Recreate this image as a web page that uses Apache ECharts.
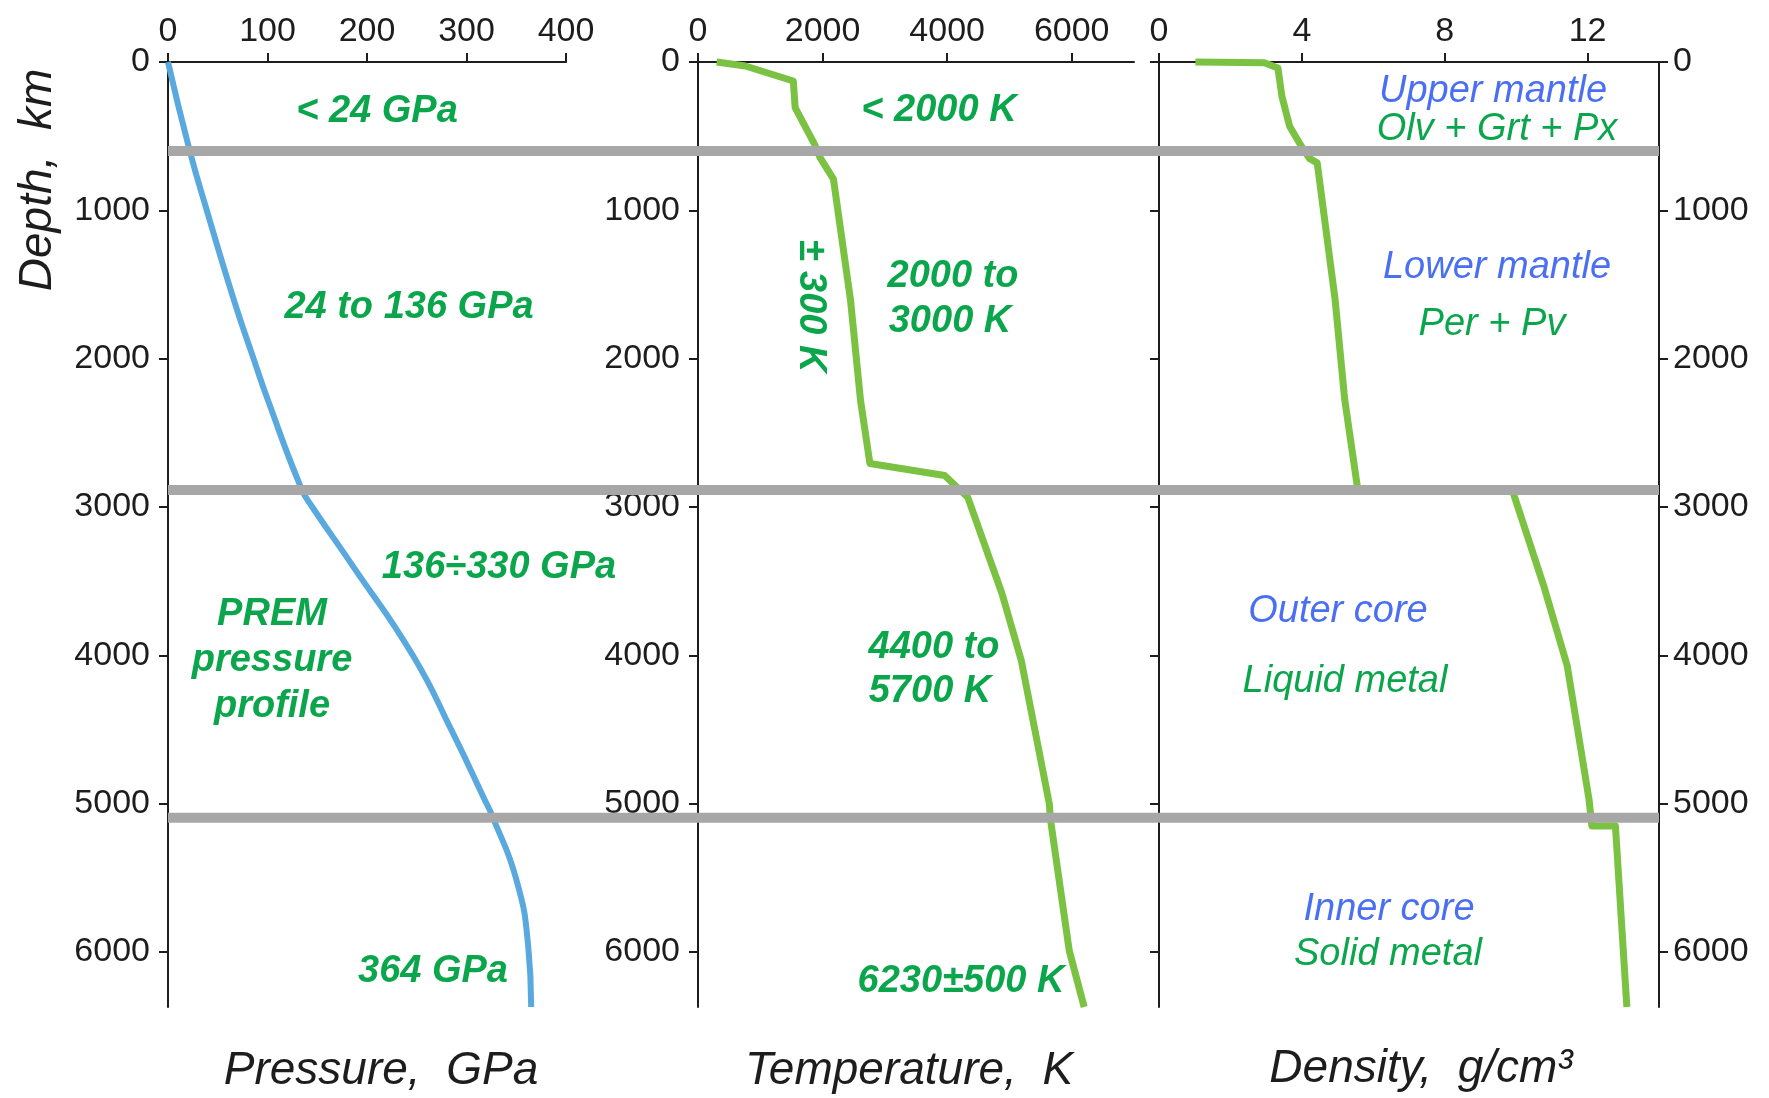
<!DOCTYPE html>
<html>
<head>
<meta charset="utf-8">
<title>Earth interior: pressure, temperature, density</title>
<script src="https://cdn.jsdelivr.net/npm/echarts@6.0.0/dist/echarts.min.js"></script>
<style>
  html, body { margin: 0; padding: 0; background: #fff; }
  #chart { width: 1769px; height: 1098px; }
</style>
</head>
<body>
<div id="chart"></div>
<script>
// profiles: [value, depth km]
const pressureProfile = [
  [0, 0], [21.5, 590], [39, 1000], [66, 1600], [86, 2000], [100, 2272],
  [134, 2875], [145, 3000], [186, 3400], [246, 4000], [286, 4520],
  [318, 4970], [326, 5085], [350, 5510], [362, 5960], [365, 6371]
];
const temperatureProfile = [
  [300, 0], [760, 27], [1530, 128], [1560, 308], [1870, 553], [1960, 645],
  [2175, 790], [2450, 1610], [2610, 2283], [2760, 2707], [3960, 2788],
  [4330, 2934], [4880, 3583], [5190, 4034], [5640, 5000], [5660, 5111],
  [5960, 5990], [6200, 6371]
];
const densityProfile = [
  [1.02, 0], [2.95, 5], [3.33, 40], [3.44, 230], [3.66, 435], [3.99, 570],
  [4.21, 650], [4.43, 680], [4.93, 1600], [5.2, 2276], [5.57, 2891],
  [9.9, 2891], [10.77, 3530], [11.43, 4070], [12.04, 4970], [12.12, 5150],
  [12.78, 5150], [13.1, 6371]
];
const boundaryDepths = [600, 2885, 5095];

const depthTicks = [0, 1000, 2000, 3000, 4000, 5000, 6000];
const pressureTicks = [0, 100, 200, 300, 400];
const temperatureTicks = [0, 2000, 4000, 6000];
const densityTicks = [0, 4, 8, 12];
const EARTH_RADIUS = 6371;

const FONT = '"Liberation Sans", Arial, sans-serif';
const INK = '#1d1d1d';
const GREEN_TEXT = '#0ba64c';
const BLUE_TEXT = '#4a6ff2';

const chart = echarts.init(document.getElementById('chart'));

// plain numbers, no thousands separator
const plain = (v) => String(v);

function topAxis(gridIndex, max, ticks) {
  return {
    gridIndex, type: 'value', position: 'top', min: 0, max,
    axisLine: { show: true, onZero: false, lineStyle: { color: INK, width: 2 } },
    axisTick: { show: true, length: 9, customValues: ticks, lineStyle: { color: INK, width: 2 } },
    axisLabel: { customValues: ticks, formatter: plain, color: INK, fontSize: 34, fontFamily: FONT, margin: 13 },
    splitLine: { show: false }
  };
}

function depthAxis(gridIndex, position, showLabels) {
  return {
    gridIndex, type: 'value', inverse: true, min: 0, max: EARTH_RADIUS, position,
    axisLine: { show: true, onZero: false, lineStyle: { color: INK, width: 2 } },
    axisTick: { show: true, length: 9, customValues: depthTicks, lineStyle: { color: INK, width: 2 } },
    axisLabel: {
      show: showLabels, customValues: depthTicks, formatter: plain,
      color: INK, fontSize: 34, fontFamily: FONT, margin: position === 'right' ? 14 : 18
    },
    splitLine: { show: false }
  };
}

function profileLine(name, idx, data, color, width, smooth) {
  return {
    name, type: 'line', xAxisIndex: idx, yAxisIndex: idx, data,
    smooth, showSymbol: false, symbol: 'none', clip: false, z: 2,
    lineStyle: { color, width, join: 'round' }
  };
}

function label(text, x, y, fill, font, rotation) {
  return {
    type: 'text', x, y, rotation: rotation || 0, silent: true,
    style: { text, fill, font, align: 'center', verticalAlign: 'middle' }
  };
}

const boldGreen = 'italic bold 38px ' + FONT;
const plainItalic = 'italic 38px ' + FONT;
const titleFont = 'italic 46px ' + FONT;

const option = {
  backgroundColor: '#fff',
  animation: false,
  grid: [
    { left: 168, top: 62, width: 398, height: 945 },
    { left: 698, top: 62, width: 436, height: 945 },
    { left: 1159, top: 62, width: 500, height: 945 },
    { left: 168, top: 62, width: 1491, height: 945 }
  ],
  xAxis: [
    topAxis(0, 400, pressureTicks),
    topAxis(1, 7000, temperatureTicks),
    topAxis(2, 14, densityTicks),
    { gridIndex: 3, type: 'value', min: 0, max: 1, show: false }
  ],
  yAxis: [
    depthAxis(0, 'left', true),
    depthAxis(1, 'left', true),
    depthAxis(2, 'left', false),
    { gridIndex: 3, type: 'value', inverse: true, min: 0, max: EARTH_RADIUS, show: false },
    depthAxis(2, 'right', true)
  ],
  series: [
    profileLine('Pressure', 0, pressureProfile, '#59a9de', 6, true),
    profileLine('Temperature', 1, temperatureProfile, '#7cc242', 7, false),
    profileLine('Density', 2, densityProfile, '#7cc242', 7, false),
    ...boundaryDepths.map((d) => ({
      type: 'line', xAxisIndex: 3, yAxisIndex: 3, silent: true,
      data: [[0, d], [1, d]], showSymbol: false, symbol: 'none', clip: false, z: 3,
      lineStyle: { color: '#a7a7a7', width: 10 }
    }))
  ],
  graphic: [
    label('Depth,  km', 38, 180, INK, titleFont, Math.PI / 2),
    label('Pressure,  GPa', 381, 1071, INK, titleFont),
    label('Temperature,  K', 909, 1071, INK, titleFont),
    label('Density,  g/cm\u00B3', 1421, 1069, INK, titleFont),

    label('< 24 GPa', 377, 112, GREEN_TEXT, boldGreen),
    label('24 to 136 GPa', 409, 308, GREEN_TEXT, boldGreen),
    label('136\u00F7330 GPa', 499, 568, GREEN_TEXT, boldGreen),
    label('PREM', 272, 615, GREEN_TEXT, boldGreen),
    label('pressure', 272, 661, GREEN_TEXT, boldGreen),
    label('profile', 272, 707, GREEN_TEXT, boldGreen),
    label('364 GPa', 433, 972, GREEN_TEXT, boldGreen),

    label('< 2000 K', 939, 111, GREEN_TEXT, boldGreen),
    label('\u00B1 300 K', 810, 306, GREEN_TEXT, boldGreen, -Math.PI / 2),
    label('2000 to', 953, 277, GREEN_TEXT, boldGreen),
    label('3000 K', 950, 322, GREEN_TEXT, boldGreen),
    label('4400 to', 934, 648, GREEN_TEXT, boldGreen),
    label('5700 K', 930, 692, GREEN_TEXT, boldGreen),
    label('6230\u00B1500 K', 961, 982, GREEN_TEXT, boldGreen),

    label('Upper mantle', 1493, 91, BLUE_TEXT, plainItalic),
    label('Olv + Grt + Px', 1497, 129, GREEN_TEXT, plainItalic),
    label('Lower mantle', 1497, 267, BLUE_TEXT, plainItalic),
    label('Per + Pv', 1492, 324, GREEN_TEXT, plainItalic),
    label('Outer core', 1338, 611, BLUE_TEXT, plainItalic),
    label('Liquid metal', 1345, 681, GREEN_TEXT, plainItalic),
    label('Inner core', 1389, 909, BLUE_TEXT, plainItalic),
    label('Solid metal', 1388, 954, GREEN_TEXT, plainItalic)
  ]
};

chart.setOption(option);
</script>
</body>
</html>
